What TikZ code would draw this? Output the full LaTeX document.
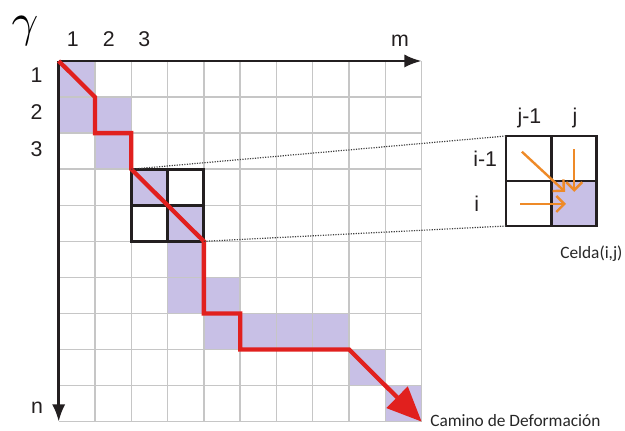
\documentclass[tikz,border=0pt]{standalone}
\usepackage{fontspec}
\setmainfont{Liberation Sans}
\newfontfamily\calibrifont{Carlito}
\usetikzlibrary{positioning, arrows.meta}
\newcommand{\lblsize}{\fontsize{16pt}{18pt}\selectfont}
\newcommand{\notesize}{\fontsize{13pt}{16pt}\selectfont}
\definecolor{pathred}  {RGB}{225, 32, 30}
\definecolor{cellblue} {RGB}{200, 192, 230}
\definecolor{gridgray} {RGB}{198, 198, 198}
\definecolor{moveorange}{RGB}{238, 138, 40}
\definecolor{axisblack}{RGB}{35, 31, 32}
\tikzset{
  % shaded cells of the path
  cellfill/.style={fill=cellblue},
  % thin grid lines
  gridline/.style={draw=gridgray, line width=1.1pt},
  % the two axes
  axis/.style={-{Latex[length=13pt, width=10pt]}, line width=2pt, color=axisblack},
  % thick cell box
  cellbox/.style={draw=axisblack, line width=2.2pt},
  % warping path
  warp/.style={-{Triangle[length=26pt, width=22pt]}, line width=3.2pt,
    color=pathred, line join=miter},
  % dotted zoom lines
  zoomlink/.style={densely dotted, line width=0.9pt, color=black!75},
  % orange moves in the cell
  move/.style={-{Straight Barb[length=6pt, width=12pt]}, line width=1.8pt,
    color=moveorange},
  lbl/.style={font=\lblsize, text=axisblack, inner sep=0pt},
  note/.style={font=\notesize\calibrifont, text=black!85, inner sep=0pt},
}

\begin{document}
\begin{tikzpicture}[x=0.75pt, y=-0.75pt]
  \useasboundingbox (0,0) rectangle (625,431);

  % main grid
  \begin{scope}[shift={(58.7,61)}, x=27.22pt, y=-27.05pt]
    \foreach \c/\r in {0/0, 0/1, 1/1, 1/2, 2/3, 3/4, 3/5, 3/6, 4/6, 4/7,
                       5/7, 6/7, 7/7, 8/8, 9/9}
      \fill[cellfill] (\c,\r) rectangle ++(1,1);
    \foreach \k in {1,...,10} {
      \draw[gridline] (\k,0) -- (\k,10);
      \draw[gridline] (0,\k) -- (10,\k);
    }
    \coordinate (o)     at (0,0);
    \coordinate (mend)  at (10,0);
    \coordinate (nend)  at (0,10);
    \coordinate (boxnw) at (2,3);
    \coordinate (boxse) at (4,5);
    \coordinate (pend)  at (10,10);
    \draw[cellbox] (boxnw) rectangle (boxse);
    \draw[cellbox] (3,3) -- (3,5);
    \draw[cellbox] (2,4) -- (4,4);
    \draw[axis] (o) -- (mend);
    \draw[axis] (o) -- (nend);
    \draw[warp] (o) -- (1,1) -- (1,2) -- (2,2) -- (2,3) -- (4,5) -- (4,7)
      -- (5,7) -- (5,8) -- (8,8) -- (pend);
  \end{scope}

  % zoomed cell
  \begin{scope}[shift={(506,136)}, x=34.1pt, y=-33.75pt]
    \coordinate (cellnw) at (0,0);
    \coordinate (cellsw) at (0,2);
    \coordinate (cellse) at (2,2);
    \fill[cellfill] (1,1) rectangle (cellse);
    \draw[cellbox] (cellnw) rectangle (cellse);
    \draw[cellbox] (1,0) -- (1,2);
    \draw[cellbox] (0,1) -- (2,1);
    \coordinate (fromdiag) at (0.35,0.35);
    \coordinate (todiag)   at (1.30,1.24);
    \coordinate (fromup)   at (1.50,0.29);
    \coordinate (toup)     at (1.50,1.24);
    \coordinate (fromleft) at (0.31,1.51);
    \coordinate (toleft)   at (1.32,1.51);
    \draw[move] (fromdiag) -- (todiag);
    \draw[move] (fromup) -- (toup);
    \draw[move] (fromleft) -- (toleft);
  \end{scope}

  \draw[zoomlink] (boxnw) -- (cellnw);
  \draw[zoomlink] (boxse) -- (cellsw);

  % labels
  \node[inner sep=0pt, scale=3.5] (gamma) at (25,31) {$\gamma$};
  \node[lbl, anchor=base] (col1) at (72.7,47) {1};
  \node[lbl, anchor=base] (col2) at (108.7,47) {2};
  \node[lbl, anchor=base] (col3) at (144.3,47) {3};
  \node[lbl, anchor=base] (mlabel) at (400,47) {m};
  \node[lbl, anchor=base] (row1) at (36.6,83) {1};
  \node[lbl, anchor=base] (row2) at (36.6,120) {2};
  \node[lbl, anchor=base] (row3) at (36.6,156.5) {3};
  \node[lbl, anchor=base] (nlabel) at (37,413) {n};
  \node[lbl, anchor=base] (jm1) at (529.5,124) {j-1};
  \node[lbl, anchor=base] (jlabel) at (575,124) {j};
  \node[lbl, anchor=base west] (im1) at (473,167) {i-1};
  \node[lbl, anchor=base west] (ilabel) at (474,212) {i};
  \node[note, anchor=base west] (celda) at (560,258) {Celda(i,j)};
  \node[note, anchor=base west] (camino) at (430,426.5) {Camino de Deformación};
\end{tikzpicture}
\end{document}
